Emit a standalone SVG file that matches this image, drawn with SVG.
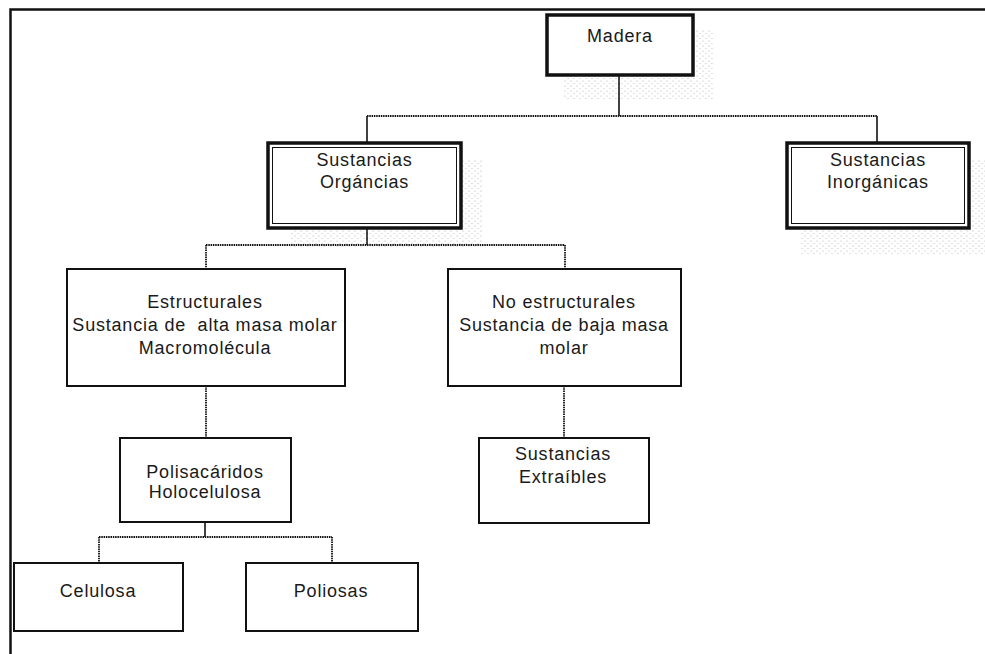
<svg xmlns="http://www.w3.org/2000/svg" width="985" height="654" viewBox="0 0 985 654">
<defs>
<pattern id="stip" width="6" height="5" patternUnits="userSpaceOnUse">
<circle cx="1" cy="1" r="0.6" fill="#8a8a8a"/>
<circle cx="4" cy="3.5" r="0.6" fill="#a0a0a0"/>
</pattern>
<style>
.t{font-family:"Liberation Sans",Arial,sans-serif;font-size:18px;fill:#1a1a1a;text-anchor:middle;letter-spacing:0.8px;white-space:pre}
.box{fill:#fff;stroke:#111;stroke-width:2}
.thick{fill:#fff;stroke:#111;stroke-width:3.5}
.inner{fill:none;stroke:#111;stroke-width:1}
.sh{fill:url(#stip);opacity:0.7}
.c{fill:none;stroke:#111;stroke-width:1.6}
.d{fill:none;stroke:#111;stroke-width:1.8;stroke-dasharray:1.5 0.8}
</style>
</defs>
<rect width="985" height="654" fill="#fff"/>
<path d="M10.5 654 V9.5 H985" fill="none" stroke="#111" stroke-width="2.5"/>
<g id="connectors">
<path class="c" d="M619 75 V116"/>
<path class="d" d="M367 116 H877"/>
<path class="c" d="M367 116 V143"/>
<path class="c" d="M877 116 V143"/>
<path class="c" d="M367 228 V245"/>
<path class="d" d="M206 245 H565"/>
<path class="d" d="M206 245 V269"/>
<path class="d" d="M565 245 V269"/>
<path class="d" d="M206 386 V438"/>
<path class="d" d="M564 386 V438"/>
<path class="c" d="M205 522 V537"/>
<path class="d" d="M99 537 H332"/>
<path class="d" d="M99 537 V563"/>
<path class="d" d="M332 537 V563"/>
</g>
<g id="madera">
<rect class="sh" x="563" y="30" width="150" height="70"/>
<rect class="thick" x="547" y="15" width="146" height="60"/>
<text class="t" x="620" y="42">Madera</text>
</g>
<g id="organicas">
<rect class="sh" x="290" y="160" width="193" height="88"/>
<rect class="thick" x="268" y="143" width="193" height="85"/>
<rect class="inner" x="272.5" y="147.5" width="184" height="76"/>
<text class="t" x="364.5" y="166">Sustancias</text>
<text class="t" x="364.5" y="188">Orgáncias</text>
</g>
<g id="inorganicas">
<rect class="sh" x="800" y="160" width="185" height="95"/>
<rect class="thick" x="787" y="143" width="182" height="85"/>
<rect class="inner" x="791.5" y="147.5" width="173" height="76"/>
<text class="t" x="878" y="166">Sustancias</text>
<text class="t" x="878" y="188">Inorgánicas</text>
</g>
<g id="estructurales">
<rect class="box" x="67" y="269" width="278" height="117"/>
<text class="t" x="205" y="308">Estructurales</text>
<text class="t" x="205" y="331">Sustancia de  alta masa molar</text>
<text class="t" x="205" y="354">Macromolécula</text>
</g>
<g id="noestructurales">
<rect class="box" x="448" y="269" width="233" height="117"/>
<text class="t" x="564" y="308">No estructurales</text>
<text class="t" x="564" y="331">Sustancia de baja masa</text>
<text class="t" x="564" y="354">molar</text>
</g>
<g id="polisacaridos">
<rect class="box" x="120" y="438" width="171" height="84"/>
<text class="t" x="205" y="478">Polisacáridos</text>
<text class="t" x="205" y="498">Holocelulosa</text>
</g>
<g id="extraibles">
<rect class="box" x="479" y="438" width="170" height="85"/>
<text class="t" x="563" y="460">Sustancias</text>
<text class="t" x="563" y="483">Extraíbles</text>
</g>
<g id="celulosa">
<rect class="box" x="14" y="563" width="169" height="68"/>
<text class="t" x="98" y="597">Celulosa</text>
</g>
<g id="poliosas">
<rect class="box" x="246" y="563" width="172" height="68"/>
<text class="t" x="331" y="597">Poliosas</text>
</g>
</svg>
